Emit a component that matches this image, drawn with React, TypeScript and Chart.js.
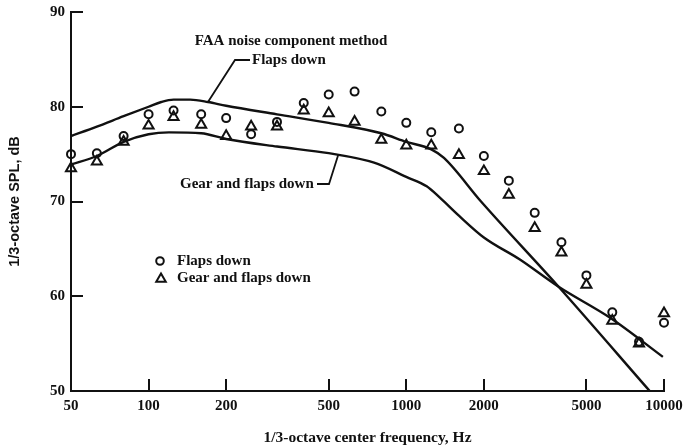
import React, { useEffect, useRef } from 'react';
import { Chart, registerables } from 'chart.js';

Chart.register(...registerables);

// 1/3-octave band centre frequencies (Hz)
const FREQ = [50, 63, 80, 100, 125, 160, 200, 250, 315, 400, 500, 630, 800, 1000, 1250, 1600, 2000, 2500, 3150, 4000, 5000, 6300, 8000, 10000];
// Measured: flaps down (circles)
const MEAS_FLAPS = [75.0, 75.1, 76.9, 79.2, 79.6, 79.2, 78.8, 77.1, 78.4, 80.4, 81.3, 81.6, 79.5, 78.3, 77.3, 77.7, 74.8, 72.2, 68.8, 65.7, 62.2, 58.3, 55.2, 57.2];
// Measured: gear and flaps down (triangles)
const MEAS_GEAR = [73.5, 74.2, 76.3, 78.0, 78.9, 78.1, 76.9, 77.9, 77.9, 79.6, 79.3, 78.4, 76.5, 75.9, 75.9, 74.9, 73.2, 70.7, 67.2, 64.6, 61.2, 57.4, 55.0, 58.2];

// FAA noise component method: flaps down
const METHOD_FLAPS_F = [50, 63, 80, 100, 112, 125, 145, 170, 200, 315, 500, 800, 1000, 1250, 1400, 1950, 3900, 8800];
const METHOD_FLAPS = [76.9, 77.9, 79.0, 80.0, 80.5, 80.75, 80.75, 80.5, 80.1, 79.2, 78.3, 77.2, 76.3, 75.5, 74.6, 70.0, 61.0, 50.0];
// FAA noise component method: gear and flaps down
const METHOD_GEAR_F = [50, 63, 80, 100, 120, 160, 200, 315, 500, 750, 1000, 1200, 1350, 1600, 2000, 2750, 3900, 6200, 9900];
const METHOD_GEAR = [73.9, 74.8, 76.3, 77.1, 77.3, 77.2, 76.6, 75.8, 75.1, 74.1, 72.6, 71.6, 70.4, 68.5, 66.2, 63.9, 61.0, 57.7, 53.6];

const X_TICKS = [50, 100, 200, 500, 1000, 2000, 5000, 10000];
const Y_TICKS = [50, 60, 70, 80, 90];

const INK = '#111';
const SERIF = '"Liberation Serif", "DejaVu Serif", serif';
const SANS = '"Liberation Sans", "DejaVu Sans", sans-serif';

const pts = (xs: number[], ys: number[]) => xs.map((x, i) => ({ x, y: ys[i] }));

function drawTriangle(ctx: CanvasRenderingContext2D, cx: number, cy: number, r: number) {
  ctx.beginPath();
  for (let k = 0; k < 3; k++) {
    const a = (k * 2 * Math.PI) / 3;
    const px = cx + Math.sin(a) * r;
    const py = cy - Math.cos(a) * r;
    if (k === 0) ctx.moveTo(px, py);
    else ctx.lineTo(px, py);
  }
  ctx.closePath();
  ctx.stroke();
}

const overlay = {
  id: 'overlay',
  afterDraw(chart: any) {
    const { ctx, chartArea } = chart;
    const x = chart.scales.x;
    const y = chart.scales.y;
    ctx.save();
    ctx.strokeStyle = INK;
    ctx.fillStyle = INK;
    ctx.lineWidth = 2;
    // inner tick marks
    for (const v of X_TICKS.slice(1)) {
      const px = Math.round(x.getPixelForValue(v));
      ctx.beginPath();
      ctx.moveTo(px, chartArea.bottom);
      ctx.lineTo(px, chartArea.bottom - 12);
      ctx.stroke();
    }
    for (const v of Y_TICKS.slice(1)) {
      const py = Math.round(y.getPixelForValue(v));
      ctx.beginPath();
      ctx.moveTo(chartArea.left, py);
      ctx.lineTo(chartArea.left + 12, py);
      ctx.stroke();
    }

    ctx.font = `bold 15px ${SERIF}`;
    ctx.textBaseline = 'middle';
    ctx.textAlign = 'center';
    ctx.fillText('FAA noise component method', 291, 41);
    ctx.textAlign = 'left';
    ctx.fillText('Flaps down', 252, 60);
    // leader to flaps-down curve
    const ux = x.getPixelForValue(170);
    const uy = y.getPixelForValue(80.5);
    ctx.lineWidth = 1.8;
    ctx.beginPath();
    ctx.moveTo(250, 60);
    ctx.lineTo(235, 60);
    ctx.lineTo(ux, uy);
    ctx.stroke();

    ctx.fillText('Gear and flaps down', 180, 184);
    const lx = x.getPixelForValue(545);
    const ly = y.getPixelForValue(74.95);
    ctx.beginPath();
    ctx.moveTo(317, 184);
    ctx.lineTo(329, 184);
    ctx.lineTo(lx, ly);
    ctx.stroke();

    // legend
    ctx.lineWidth = 2;
    ctx.beginPath();
    ctx.arc(160, 261, 3.8, 0, Math.PI * 2);
    ctx.stroke();
    drawTriangle(ctx, 161, 279, 5.5);
    ctx.fillText('Flaps down', 177, 261);
    ctx.fillText('Gear and flaps down', 177, 278);
    ctx.restore();
  },
};

export default function App() {
  const ref = useRef<HTMLCanvasElement | null>(null);
  useEffect(() => {
    if (!ref.current) return;
    const tickFont = { family: SERIF, weight: 'bold' as const, size: 15 };
    const chart = new Chart(ref.current, {
      type: 'scatter',
      data: {
        datasets: [
          {
            label: 'Method flaps down',
            data: pts(METHOD_FLAPS_F, METHOD_FLAPS),
            showLine: true,
            borderColor: INK,
            borderWidth: 2.4,
            pointRadius: 0,
            cubicInterpolationMode: 'monotone',
          },
          {
            label: 'Method gear and flaps down',
            data: pts(METHOD_GEAR_F, METHOD_GEAR),
            showLine: true,
            borderColor: INK,
            borderWidth: 2.4,
            pointRadius: 0,
            cubicInterpolationMode: 'monotone',
          },
          {
            label: 'Flaps down',
            data: pts(FREQ, MEAS_FLAPS),
            showLine: false,
            clip: false,
            pointStyle: 'circle',
            pointRadius: 4,
            pointBorderWidth: 2,
            borderColor: INK,
            backgroundColor: 'rgba(0,0,0,0)',
          },
          {
            label: 'Gear and flaps down',
            data: pts(FREQ, MEAS_GEAR),
            showLine: false,
            clip: false,
            pointStyle: 'triangle',
            pointRadius: 5.8,
            pointBorderWidth: 2,
            borderColor: INK,
            backgroundColor: 'rgba(0,0,0,0)',
          },
        ],
      },
      options: {
        responsive: false,
        animation: false,
        layout: { padding: { left: 0, top: 12, right: 19, bottom: 0 } },
        plugins: { legend: { display: false }, tooltip: { enabled: false } },
        scales: {
          x: {
            type: 'logarithmic',
            min: 50,
            max: 10000,
            afterBuildTicks: (s: any) => {
              s.ticks = X_TICKS.map((v) => ({ value: v }));
            },
            afterFit: (s: any) => {
              s.height = 56;
              s.paddingLeft = 0;
              s.paddingRight = 0;
            },
            ticks: {
              callback: (v: any) => String(v),
              font: tickFont,
              color: INK,
              padding: 6,
              maxRotation: 0,
              autoSkip: false,
            },
            grid: { display: false, drawTicks: false },
            border: { display: true, color: INK, width: 2 },
            title: {
              display: true,
              text: '1/3-octave center frequency, Hz',
              font: { family: SERIF, weight: 'bold', size: 15.5 },
              color: INK,
              padding: { top: 0, bottom: 0 },
            },
          },
          y: {
            type: 'linear',
            min: 50,
            max: 90,
            afterBuildTicks: (s: any) => {
              s.ticks = Y_TICKS.map((v) => ({ value: v }));
            },
            afterFit: (s: any) => {
              s.width = 71;
              s.paddingTop = 0;
              s.paddingBottom = 0;
            },
            ticks: { font: tickFont, color: INK, padding: 6 },
            grid: { display: false, drawTicks: false },
            border: { display: true, color: INK, width: 2 },
            title: {
              display: true,
              text: '1/3-octave SPL, dB',
              font: { family: SANS, weight: 'bold', size: 14.5 },
              color: INK,
              padding: { top: 6, bottom: 0 },
            },
          },
        },
      },
      plugins: [overlay],
    } as any);
    return () => chart.destroy();
  }, []);
  return (
    <div style={{ position: 'absolute', left: 0, top: 0, width: 683, height: 447, background: '#fff' }}>
      <canvas ref={ref} width={683} height={447} style={{ display: 'block' }} />
    </div>
  );
}
